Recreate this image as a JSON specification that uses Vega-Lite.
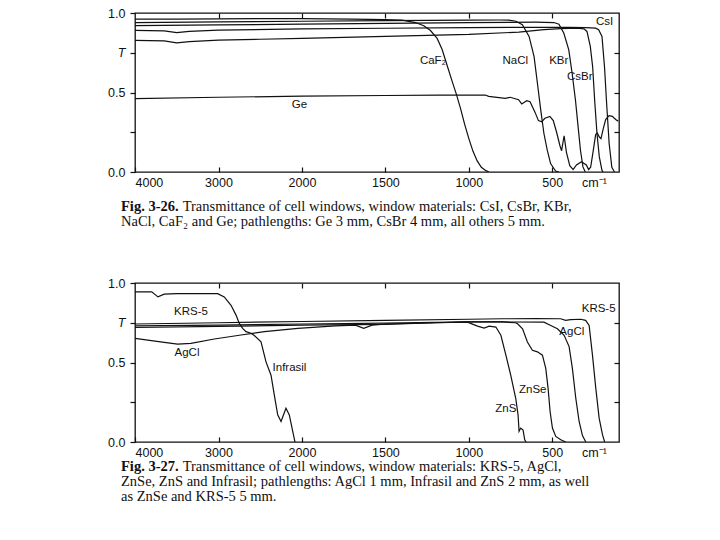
{
  "$schema": "https://vega.github.io/schema/vega-lite/v6.json",
  "background": "white",
  "padding": {"left": 106, "top": 6, "right": 5, "bottom": 5},
  "config": {
    "view": {"stroke": "#111", "strokeWidth": 1.3},
    "axis": {"domain": false, "grid": false, "labelFont": "Liberation Sans", "labelFontSize": 12.5, "labelColor": "#111", "tickColor": "#111", "tickWidth": 1.2, "title": null},
    "text": {"font": "Liberation Sans", "fontSize": 11.5, "color": "#111"}
  },
  "datasets": {
    "top": [
      {"m":"CaF2","w":4000,"t":0.962},{"m":"CaF2","w":3500,"t":0.962},{"m":"CaF2","w":3000,"t":0.963},{"m":"CaF2","w":2500,"t":0.965},{"m":"CaF2","w":2000,"t":0.965},{"m":"CaF2","w":1700,"t":0.962},{"m":"CaF2","w":1500,"t":0.958},{"m":"CaF2","w":1400,"t":0.955},{"m":"CaF2","w":1320,"t":0.94},{"m":"CaF2","w":1270,"t":0.92},{"m":"CaF2","w":1230,"t":0.89},{"m":"CaF2","w":1190,"t":0.84},{"m":"CaF2","w":1160,"t":0.77},{"m":"CaF2","w":1130,"t":0.67},{"m":"CaF2","w":1100,"t":0.57},{"m":"CaF2","w":1075,"t":0.49},{"m":"CaF2","w":1050,"t":0.40},{"m":"CaF2","w":1025,"t":0.30},{"m":"CaF2","w":1000,"t":0.21},{"m":"CaF2","w":975,"t":0.13},{"m":"CaF2","w":950,"t":0.07},{"m":"CaF2","w":925,"t":0.03},{"m":"CaF2","w":900,"t":0.01},{"m":"CaF2","w":880,"t":0.0},
      {"m":"NaCl","w":4000,"t":0.94},{"m":"NaCl","w":3000,"t":0.944},{"m":"NaCl","w":2000,"t":0.948},{"m":"NaCl","w":1500,"t":0.952},{"m":"NaCl","w":1000,"t":0.955},{"m":"NaCl","w":817,"t":0.956},{"m":"NaCl","w":760,"t":0.955},{"m":"NaCl","w":718,"t":0.948},{"m":"NaCl","w":679,"t":0.926},{"m":"NaCl","w":639,"t":0.853},{"m":"NaCl","w":609,"t":0.726},{"m":"NaCl","w":589,"t":0.558},{"m":"NaCl","w":569,"t":0.389},{"m":"NaCl","w":550,"t":0.242},{"m":"NaCl","w":530,"t":0.137},{"m":"NaCl","w":510,"t":0.053},{"m":"NaCl","w":480,"t":0.006},{"m":"NaCl","w":460,"t":0.0},
      {"m":"KBr","w":4000,"t":0.92},{"m":"KBr","w":3000,"t":0.925},{"m":"KBr","w":2000,"t":0.93},{"m":"KBr","w":1500,"t":0.935},{"m":"KBr","w":1000,"t":0.94},{"m":"KBr","w":600,"t":0.942},{"m":"KBr","w":490,"t":0.94},{"m":"KBr","w":460,"t":0.93},{"m":"KBr","w":431,"t":0.874},{"m":"KBr","w":401,"t":0.768},{"m":"KBr","w":381,"t":0.621},{"m":"KBr","w":361,"t":0.453},{"m":"KBr","w":345,"t":0.284},{"m":"KBr","w":331,"t":0.137},{"m":"KBr","w":316,"t":0.032},{"m":"KBr","w":302,"t":0.0},
      {"m":"CsI","w":4000,"t":0.891},{"m":"CsI","w":3650,"t":0.888},{"m":"CsI","w":3500,"t":0.876},{"m":"CsI","w":3350,"t":0.884},{"m":"CsI","w":3000,"t":0.892},{"m":"CsI","w":2000,"t":0.9},{"m":"CsI","w":1500,"t":0.904},{"m":"CsI","w":1000,"t":0.908},{"m":"CsI","w":600,"t":0.91},{"m":"CsI","w":400,"t":0.91},{"m":"CsI","w":300,"t":0.908},{"m":"CsI","w":240,"t":0.905},{"m":"CsI","w":222,"t":0.895},{"m":"CsI","w":202,"t":0.853},{"m":"CsI","w":187,"t":0.663},{"m":"CsI","w":173,"t":0.41},{"m":"CsI","w":159,"t":0.179},{"m":"CsI","w":143,"t":0.03},{"m":"CsI","w":127,"t":0.0},
      {"m":"CsBr","w":4000,"t":0.828},{"m":"CsBr","w":3650,"t":0.825},{"m":"CsBr","w":3500,"t":0.812},{"m":"CsBr","w":3350,"t":0.82},{"m":"CsBr","w":3000,"t":0.83},{"m":"CsBr","w":2500,"t":0.835},{"m":"CsBr","w":2000,"t":0.84},{"m":"CsBr","w":1500,"t":0.853},{"m":"CsBr","w":1000,"t":0.865},{"m":"CsBr","w":700,"t":0.88},{"m":"CsBr","w":550,"t":0.895},{"m":"CsBr","w":450,"t":0.902},{"m":"CsBr","w":350,"t":0.905},{"m":"CsBr","w":310,"t":0.9},{"m":"CsBr","w":292,"t":0.884},{"m":"CsBr","w":272,"t":0.79},{"m":"CsBr","w":258,"t":0.663},{"m":"CsBr","w":246,"t":0.453},{"m":"CsBr","w":232,"t":0.242},{"m":"CsBr","w":218,"t":0.095},{"m":"CsBr","w":202,"t":0.01},{"m":"CsBr","w":195,"t":0.0},
      {"m":"Ge","w":4000,"t":0.462},{"m":"Ge","w":3000,"t":0.47},{"m":"Ge","w":2000,"t":0.477},{"m":"Ge","w":1500,"t":0.481},{"m":"Ge","w":1179,"t":0.484},{"m":"Ge","w":901,"t":0.484},{"m":"Ge","w":881,"t":0.476},{"m":"Ge","w":782,"t":0.463},{"m":"Ge","w":752,"t":0.47},{"m":"Ge","w":702,"t":0.455},{"m":"Ge","w":683,"t":0.428},{"m":"Ge","w":653,"t":0.448},{"m":"Ge","w":633,"t":0.442},{"m":"Ge","w":603,"t":0.375},{"m":"Ge","w":583,"t":0.323},{"m":"Ge","w":563,"t":0.316},{"m":"Ge","w":544,"t":0.338},{"m":"Ge","w":514,"t":0.35},{"m":"Ge","w":494,"t":0.323},{"m":"Ge","w":474,"t":0.25},{"m":"Ge","w":454,"t":0.165},{"m":"Ge","w":444,"t":0.134},{"m":"Ge","w":429,"t":0.228},{"m":"Ge","w":415,"t":0.124},{"m":"Ge","w":395,"t":0.04},{"m":"Ge","w":375,"t":0.015},{"m":"Ge","w":355,"t":0.044},{"m":"Ge","w":325,"t":0.065},{"m":"Ge","w":296,"t":0.044},{"m":"Ge","w":282,"t":0.015},{"m":"Ge","w":270,"t":0.03},{"m":"Ge","w":255,"t":0.13},{"m":"Ge","w":240,"t":0.235},{"m":"Ge","w":230,"t":0.245},{"m":"Ge","w":218,"t":0.22},{"m":"Ge","w":208,"t":0.21},{"m":"Ge","w":195,"t":0.27},{"m":"Ge","w":180,"t":0.33},{"m":"Ge","w":160,"t":0.355},{"m":"Ge","w":140,"t":0.35},{"m":"Ge","w":120,"t":0.33},{"m":"Ge","w":105,"t":0.32}
    ],
    "topLab": [
      {"label":"CsI","w":186,"t":0.945},{"label":"NaCl","w":722,"t":0.70},{"label":"KBr","w":461,"t":0.70},{"label":"CsBr","w":335,"t":0.60},{"label":"CaF₂","w":1215,"t":0.70},{"label":"Ge","w":2030,"t":0.42}
    ],
    "bot": [
      {"m":"Infrasil","w":4000,"t":0.944},{"m":"Infrasil","w":3800,"t":0.944},{"m":"Infrasil","w":3725,"t":0.9125},{"m":"Infrasil","w":3650,"t":0.93},{"m":"Infrasil","w":3500,"t":0.933},{"m":"Infrasil","w":3010,"t":0.933},{"m":"Infrasil","w":2931,"t":0.9125},{"m":"Infrasil","w":2850,"t":0.86},{"m":"Infrasil","w":2790,"t":0.798},{"m":"Infrasil","w":2751,"t":0.746},{"m":"Infrasil","w":2711,"t":0.715},{"m":"Infrasil","w":2671,"t":0.694},{"m":"Infrasil","w":2611,"t":0.684},{"m":"Infrasil","w":2571,"t":0.67},{"m":"Infrasil","w":2491,"t":0.63},{"m":"Infrasil","w":2431,"t":0.504},{"m":"Infrasil","w":2371,"t":0.42},{"m":"Infrasil","w":2332,"t":0.296},{"m":"Infrasil","w":2291,"t":0.171},{"m":"Infrasil","w":2251,"t":0.129},{"m":"Infrasil","w":2192,"t":0.2125},{"m":"Infrasil","w":2152,"t":0.17},{"m":"Infrasil","w":2111,"t":0.067},{"m":"Infrasil","w":2084,"t":0.0},
      {"m":"AgCl","w":4000,"t":0.652},{"m":"AgCl","w":3650,"t":0.627},{"m":"AgCl","w":3490,"t":0.615},{"m":"AgCl","w":3330,"t":0.62},{"m":"AgCl","w":3050,"t":0.648},{"m":"AgCl","w":2730,"t":0.673},{"m":"AgCl","w":2450,"t":0.694},{"m":"AgCl","w":2050,"t":0.715},{"m":"AgCl","w":1800,"t":0.73},{"m":"AgCl","w":1680,"t":0.735},{"m":"AgCl","w":1630,"t":0.715},{"m":"AgCl","w":1580,"t":0.735},{"m":"AgCl","w":1500,"t":0.742},{"m":"AgCl","w":1200,"t":0.75},{"m":"AgCl","w":1000,"t":0.755},{"m":"AgCl","w":800,"t":0.755},{"m":"AgCl","w":550,"t":0.754},{"m":"AgCl","w":509,"t":0.733},{"m":"AgCl","w":469,"t":0.7125},{"m":"AgCl","w":429,"t":0.671},{"m":"AgCl","w":399,"t":0.6},{"m":"AgCl","w":379,"t":0.46},{"m":"AgCl","w":359,"t":0.275},{"m":"AgCl","w":339,"t":0.129},{"m":"AgCl","w":319,"t":0.04},{"m":"AgCl","w":299,"t":0.0},
      {"m":"KRS-5","w":4000,"t":0.742},{"m":"KRS-5","w":3000,"t":0.75},{"m":"KRS-5","w":2000,"t":0.758},{"m":"KRS-5","w":1500,"t":0.765},{"m":"KRS-5","w":1000,"t":0.772},{"m":"KRS-5","w":800,"t":0.775},{"m":"KRS-5","w":600,"t":0.776},{"m":"KRS-5","w":450,"t":0.775},{"m":"KRS-5","w":420,"t":0.765},{"m":"KRS-5","w":390,"t":0.77},{"m":"KRS-5","w":330,"t":0.772},{"m":"KRS-5","w":300,"t":0.765},{"m":"KRS-5","w":279,"t":0.733},{"m":"KRS-5","w":259,"t":0.546},{"m":"KRS-5","w":239,"t":0.3375},{"m":"KRS-5","w":219,"t":0.15},{"m":"KRS-5","w":199,"t":0.046},{"m":"KRS-5","w":186,"t":0.0},
      {"m":"ZnSe","w":4000,"t":0.73},{"m":"ZnSe","w":3000,"t":0.735},{"m":"ZnSe","w":2000,"t":0.742},{"m":"ZnSe","w":1500,"t":0.748},{"m":"ZnSe","w":1000,"t":0.755},{"m":"ZnSe","w":800,"t":0.755},{"m":"ZnSe","w":720,"t":0.75},{"m":"ZnSe","w":708,"t":0.744},{"m":"ZnSe","w":678,"t":0.7125},{"m":"ZnSe","w":649,"t":0.629},{"m":"ZnSe","w":619,"t":0.577},{"m":"ZnSe","w":589,"t":0.567},{"m":"ZnSe","w":559,"t":0.546},{"m":"ZnSe","w":539,"t":0.4625},{"m":"ZnSe","w":525,"t":0.3375},{"m":"ZnSe","w":513,"t":0.192},{"m":"ZnSe","w":499,"t":0.0875},{"m":"ZnSe","w":479,"t":0.035},{"m":"ZnSe","w":449,"t":0.014},{"m":"ZnSe","w":419,"t":0.0},
      {"m":"ZnS","w":4000,"t":0.72},{"m":"ZnS","w":3000,"t":0.727},{"m":"ZnS","w":2000,"t":0.735},{"m":"ZnS","w":1500,"t":0.74},{"m":"ZnS","w":1200,"t":0.75},{"m":"ZnS","w":1008,"t":0.754},{"m":"ZnS","w":948,"t":0.729},{"m":"ZnS","w":908,"t":0.717},{"m":"ZnS","w":878,"t":0.729},{"m":"ZnS","w":838,"t":0.723},{"m":"ZnS","w":808,"t":0.671},{"m":"ZnS","w":778,"t":0.546},{"m":"ZnS","w":749,"t":0.421},{"m":"ZnS","w":719,"t":0.275},{"m":"ZnS","w":705,"t":0.171},{"m":"ZnS","w":699,"t":0.067},{"m":"ZnS","w":689,"t":0.0875},{"m":"ZnS","w":675,"t":0.075},{"m":"ZnS","w":665,"t":0.014},{"m":"ZnS","w":657,"t":0.0}
    ],
    "botLab": [
      {"label":"KRS-5","w":3329,"t":0.82},{"label":"AgCl","w":3377,"t":0.5625},{"label":"Infrasil","w":2150,"t":0.4625},{"label":"ZnSe","w":617,"t":0.325},{"label":"ZnS","w":778,"t":0.206},{"label":"AgCl","w":383,"t":0.694},{"label":"KRS-5","w":222,"t":0.8375}
    ]
  },
  "spacing": 111,
  "bounds": "flush",
  "vconcat": [
    {
      "width": 484, "height": 159,
      "title": {"text": "Fig. 3-26.", "subtitle": ["\u200b\u2003\u2003\u2003\u2003\u00a0Transmittance of cell windows, window materials: CsI, CsBr, KBr,", "NaCl, CaF₂ and Ge; pathlengths: Ge 3 mm, CsBr 4 mm, all others 5 mm."], "orient": "bottom", "anchor": "start", "frame": "group", "dx": -14, "offset": 11, "font": "Liberation Serif", "fontSize": 14.5, "fontWeight": "bold", "color": "#111", "subtitleFont": "Liberation Serif", "subtitleFontSize": 14.5, "subtitleColor": "#111", "subtitleFontWeight": "normal", "subtitlePadding": -14.5, "subtitleLineHeight": 15},
      "layer": [
        {
          "data": {"name": "top"},
          "mark": {"type": "line", "color": "#111", "strokeWidth": 1.2, "clip": true},
          "encoding": {
            "x": {"field": "w", "type": "quantitative", "scale": {"domain": [4000, 2000, 100], "range": [0, 167, 484], "nice": false, "zero": false}, "axis": {"orient": "bottom", "values": [4000, 3000, 2000, 1500, 1000, 500, 250], "labelExpr": "datum.value == 250 ? 'cm⁻¹' : datum.value", "tickSize": -5, "labelPadding": 9, "tickOpacity": {"condition": {"test": "datum.value == 250", "value": 0}, "value": 1}}},
            "y": {"field": "t", "type": "quantitative", "scale": {"domain": [0, 1], "nice": false, "zero": false}, "axis": {"orient": "left", "values": [0, 0.25, 0.5, 0.75, 1], "labelExpr": "datum.value == 0.75 ? 'T' : datum.value == 0.25 ? '' : format(datum.value, '.1f')", "tickSize": 5, "labelPadding": 5, "labelFontStyle": {"condition": {"test": "datum.value == 0.75", "value": "italic"}, "value": "normal"}}},
            "detail": {"field": "m"}
          }
        },
        {
          "data": {"name": "topLab"},
          "mark": {"type": "text"},
          "encoding": {
            "x": {"field": "w", "type": "quantitative", "scale": {"domain": [4000, 2000, 100], "range": [0, 167, 484], "nice": false, "zero": false}, "axis": {"orient": "top", "values": [3000, 2000, 1500, 1000, 500], "labels": false, "tickSize": -5}},
            "y": {"field": "t", "type": "quantitative", "scale": {"domain": [0, 1], "nice": false, "zero": false}, "axis": {"orient": "right", "values": [0.25, 0.5, 0.75], "labels": false, "tickSize": -5}},
            "text": {"field": "label"}
          }
        }
      ],
      "resolve": {"axis": {"x": "independent", "y": "independent"}}
    },
    {
      "width": 484, "height": 159,
      "title": {"text": "Fig. 3-27.", "subtitle": ["\u200b\u2003\u2003\u2003\u2003\u00a0Transmittance of cell windows, window materials: KRS-5, AgCl,", "ZnSe, ZnS and Infrasil; pathlengths: AgCl 1 mm, Infrasil and ZnS 2 mm, as well", "as ZnSe and KRS-5 5 mm."], "orient": "bottom", "anchor": "start", "frame": "group", "dx": -14, "offset": 1.5, "font": "Liberation Serif", "fontSize": 14.5, "fontWeight": "bold", "color": "#111", "subtitleFont": "Liberation Serif", "subtitleFontSize": 14.5, "subtitleColor": "#111", "subtitleFontWeight": "normal", "subtitlePadding": -14.5, "subtitleLineHeight": 15},
      "layer": [
        {
          "data": {"name": "bot"},
          "mark": {"type": "line", "color": "#111", "strokeWidth": 1.2, "clip": true},
          "encoding": {
            "x": {"field": "w", "type": "quantitative", "scale": {"domain": [4000, 2000, 100], "range": [0, 167, 484], "nice": false, "zero": false}, "axis": {"orient": "bottom", "values": [4000, 3000, 2000, 1500, 1000, 500, 250], "labelExpr": "datum.value == 250 ? 'cm⁻¹' : datum.value", "tickSize": -5, "labelPadding": 9, "tickOpacity": {"condition": {"test": "datum.value == 250", "value": 0}, "value": 1}}},
            "y": {"field": "t", "type": "quantitative", "scale": {"domain": [0, 1], "nice": false, "zero": false}, "axis": {"orient": "left", "values": [0, 0.25, 0.5, 0.75, 1], "labelExpr": "datum.value == 0.75 ? 'T' : datum.value == 0.25 ? '' : format(datum.value, '.1f')", "tickSize": 5, "labelPadding": 5, "labelFontStyle": {"condition": {"test": "datum.value == 0.75", "value": "italic"}, "value": "normal"}}},
            "detail": {"field": "m"}
          }
        },
        {
          "data": {"name": "botLab"},
          "mark": {"type": "text"},
          "encoding": {
            "x": {"field": "w", "type": "quantitative", "scale": {"domain": [4000, 2000, 100], "range": [0, 167, 484], "nice": false, "zero": false}, "axis": {"orient": "top", "values": [3000, 2000, 1500, 1000, 500], "labels": false, "tickSize": -5}},
            "y": {"field": "t", "type": "quantitative", "scale": {"domain": [0, 1], "nice": false, "zero": false}, "axis": {"orient": "right", "values": [0.25, 0.5, 0.75], "labels": false, "tickSize": -5}},
            "text": {"field": "label"}
          }
        }
      ],
      "resolve": {"axis": {"x": "independent", "y": "independent"}}
    }
  ]
}
